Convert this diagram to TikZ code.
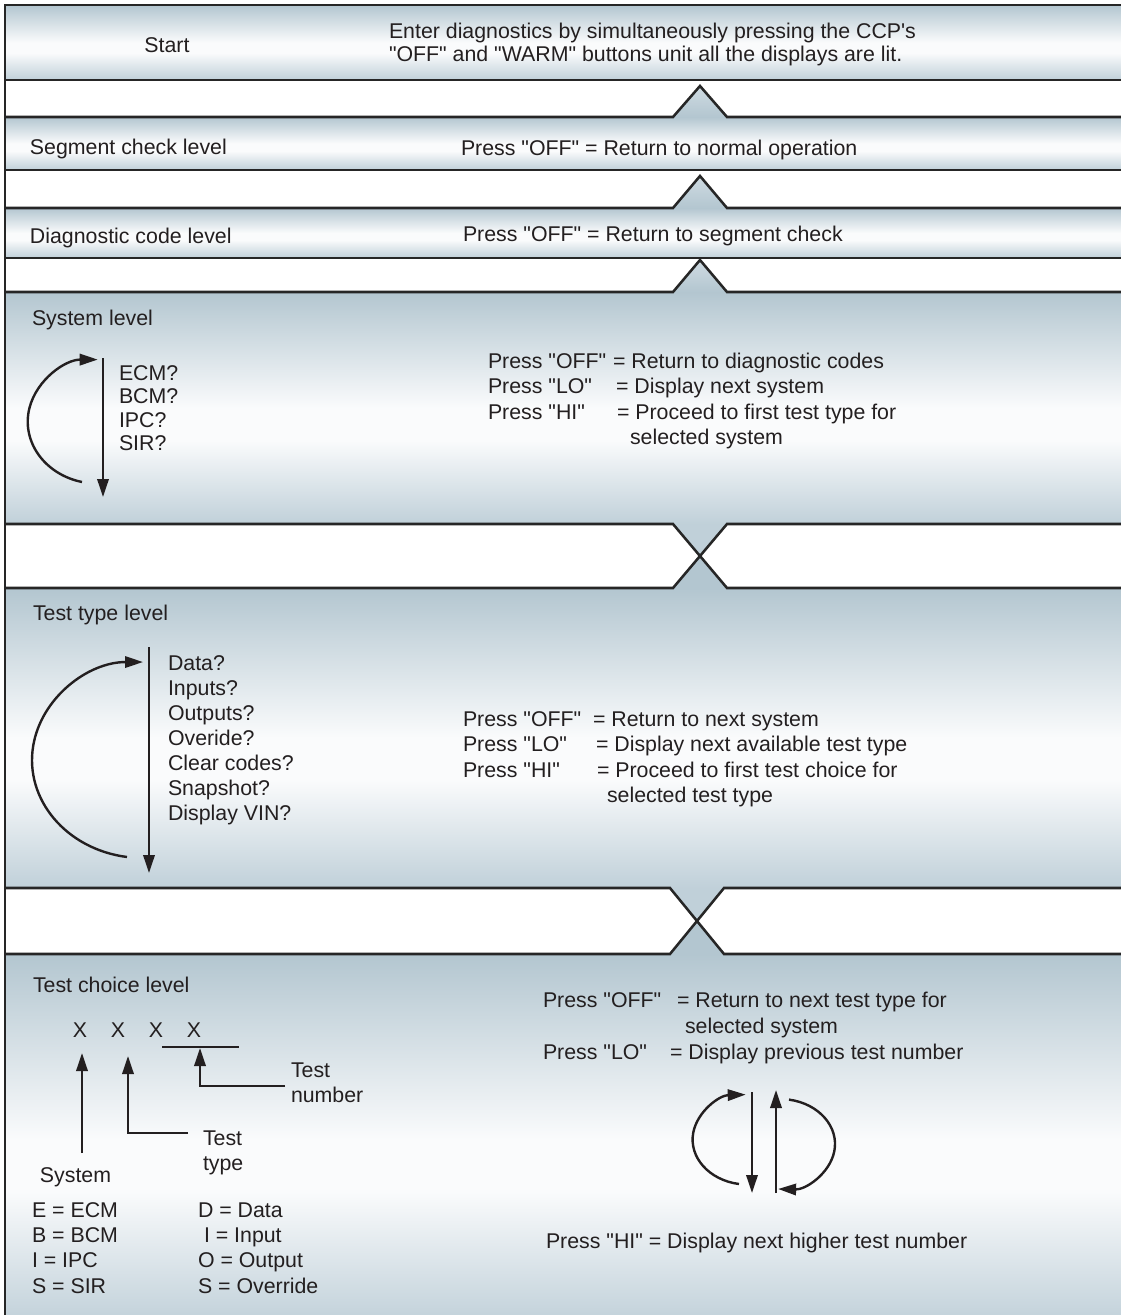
\documentclass[tikz,border=0pt]{standalone}
\usepackage{fontspec}
\setmainfont{Liberation Sans}
\usetikzlibrary{arrows.meta}
\newcommand{\dq}{\textquotedbl}
\definecolor{bandtop}{HTML}{B3C6D0}
\definecolor{bandbot}{HTML}{C0D0D9}
\definecolor{bandmid}{HTML}{FAFBFC}
\definecolor{trilight}{HTML}{CFDBE2}
\definecolor{edgec}{HTML}{262626}
\definecolor{inkc}{HTML}{231F20}
\pgfdeclareverticalshading{bandshade}{100bp}{color(0bp)=(bandbot); color(25bp)=(bandbot); color(43bp)=(bandmid); color(50bp)=(bandmid); color(75bp)=(bandtop); color(100bp)=(bandtop)}
\tikzset{
  txt/.style={anchor=base west, inner sep=0pt, outer sep=0pt, text=inkc, font=\fontsize{16}{19}\selectfont},
  edgeline/.style={draw=edgec, line width=1.9pt, line join=miter},
  arr/.style={draw=inkc, line width=1.8pt, -{Triangle[length=13.5pt,width=8.5pt]}},
  plainline/.style={draw=inkc, line width=1.5pt},
  bandfill/.style={shading=bandshade},
}
\begin{document}
\begin{tikzpicture}[x=0.75pt, y=-0.75pt]
\useasboundingbox (0,0) rectangle (1121,1315);
\clip (0,0) rectangle (1121,1315);
\fill[white] (0,0) rectangle (1121,1315);

% bands
\shade[bandfill] (5,5) rectangle (1130,80);
\shade[bandfill] (5,117) rectangle (1130,170);
\shade[bandfill] (5,208) rectangle (1130,258);
\shade[bandfill] (5,292) rectangle (1130,524);
\shade[bandfill] (5,588) rectangle (1130,888);
\shade[bandfill] (5,954) rectangle (1130,1325);

% chevrons
\shade[top color=trilight, bottom color=bandtop] (673,117) -- (700,86) -- (727,117) -- cycle;
\shade[top color=trilight, bottom color=bandtop] (673,208) -- (700,176) -- (727,208) -- cycle;
\shade[top color=trilight, bottom color=bandtop] (673,292) -- (700,260) -- (727,292) -- cycle;
\fill[bandbot] (673,524) -- (700,556) -- (727,524) -- cycle;
\fill[bandtop] (673,588) -- (700,556) -- (727,588) -- cycle;
\fill[bandbot] (670,888) -- (697,921) -- (724,888) -- cycle;
\fill[bandtop] (670,954) -- (697,921) -- (724,954) -- cycle;

% outlines
\draw[edgeline] (5,5) -- (1130,5);
\draw[edgeline] (5,80) -- (1130,80);
\draw[edgeline] (5,117) -- (673,117) -- (700,86) -- (727,117) -- (1130,117);
\draw[edgeline] (5,170) -- (1130,170);
\draw[edgeline] (5,208) -- (673,208) -- (700,176) -- (727,208) -- (1130,208);
\draw[edgeline] (5,258) -- (1130,258);
\draw[edgeline] (5,292) -- (673,292) -- (700,260) -- (727,292) -- (1130,292);
\draw[edgeline] (5,524) -- (673,524) -- (700,556) -- (727,524) -- (1130,524);
\draw[edgeline] (5,588) -- (673,588) -- (700,556) -- (727,588) -- (1130,588);
\draw[edgeline] (5,888) -- (670,888) -- (697,921) -- (724,888) -- (1130,888);
\draw[edgeline] (5,954) -- (670,954) -- (697,921) -- (724,954) -- (1130,954);
\draw[edgeline] (5,4) -- (5,1325);

% Start band
\node[txt, anchor=base] (start) at (167,52) {Start};
\node[txt] (enter1) at (389,38) {Enter diagnostics by simultaneously pressing the CCP\textquotesingle s};
\node[txt] (enter2) at (389,61) {\dq OFF\dq\ and \dq WARM\dq\ buttons unit all the displays are lit.};

% Segment band
\node[txt] (seg) at (30,154) {Segment check level};
\node[txt] (segp) at (461,155) {Press \dq OFF\dq\ = Return to normal operation};

% Diagnostic band
\node[txt] (diag) at (30,243) {Diagnostic code level};
\node[txt] (diagp) at (463,241) {Press \dq OFF\dq\ = Return to segment check};

% System band
\node[txt] (sys) at (32,325) {System level};
\node[txt, align=left, font=\fontsize{16}{17.6}\selectfont] (syslist) at (119,450.5) {ECM?\\BCM?\\IPC?\\SIR?};
\node[txt] (sp1) at (488,368) {Press \dq OFF\dq};
\node[txt] (se1) at (613,368) {= Return to diagnostic codes};
\node[txt] (sp2) at (488,393.5) {Press \dq LO\dq};
\node[txt] (se2) at (616,393.5) {= Display next system};
\node[txt] (sp3) at (488,419) {Press \dq HI\dq};
\node[txt] (se3) at (617,419) {= Proceed to first test type for};
\node[txt] (se4) at (630,444.5) {selected system};
\coordinate (sysA) at (103,358);
\coordinate (sysB) at (103,497);
\draw[arr] (sysA) -- (sysB);
\coordinate (sysC) at (82,482);
\draw[arr] (sysC) arc[start angle=103, end angle=270, x radius=70, y radius=62];

% Test type band
\node[txt] (tt) at (33,620) {Test type level};
\node[txt, align=left, font=\fontsize{16}{18.75}\selectfont] (ttlist) at (168,820) {Data?\\Inputs?\\Outputs?\\Overide?\\Clear codes?\\Snapshot?\\Display VIN?};
\node[txt] (tp1) at (463,726) {Press \dq OFF\dq};
\node[txt] (te1) at (593,726) {= Return to next system};
\node[txt] (tp2) at (463,751.5) {Press \dq LO\dq};
\node[txt] (te2) at (596,751.5) {= Display next available test type};
\node[txt] (tp3) at (463,777) {Press \dq HI\dq};
\node[txt] (te3) at (597,777) {= Proceed to first test choice for};
\node[txt] (te4) at (607,802.5) {selected test type};
\coordinate (ttA) at (149,647);
\coordinate (ttB) at (149,873);
\draw[arr] (ttA) -- (ttB);
\coordinate (ttC) at (127,857);
\draw[arr] (ttC) arc[start angle=98.3, end angle=270, x radius=111, y radius=98];

% Test choice band
\node[txt] (tc) at (33,992) {Test choice level};
\node[txt, anchor=base] (x1) at (80,1037) {X};
\node[txt, anchor=base] (x2) at (118,1037) {X};
\node[txt, anchor=base] (x3) at (156,1037) {X};
\node[txt, anchor=base] (x4) at (194,1037) {X};
\coordinate (ulA) at (162,1047);
\coordinate (ulB) at (239,1047);
\draw[plainline] (ulA) -- (ulB);
\coordinate (sysArr) at (82,1153);
\draw[arr] (sysArr) -- (82,1053);
\coordinate (ttyArr) at (188,1133);
\draw[arr] (ttyArr) -- (128,1133) -- (128,1056);
\coordinate (tnArr) at (285,1086);
\draw[arr] (tnArr) -- (200,1086) -- (200,1048);
\node[txt, align=left, font=\fontsize{16}{18.75}\selectfont] (tnum) at (291,1102) {Test\\number};
\node[txt, align=left, font=\fontsize{16}{18.75}\selectfont] (ttype) at (203,1170) {Test\\type};
\node[txt] (system) at (40,1182) {System};
\node[txt, align=left, font=\fontsize{16}{18.9}\selectfont] (leg1) at (32,1293) {E = ECM\\B = BCM\\I = IPC\\S = SIR};
\node[txt] (leg2a) at (198,1217) {D = Data};
\node[txt] (leg2b) at (204,1242.3) {I = Input};
\node[txt] (leg2c) at (198,1267.6) {O = Output};
\node[txt] (leg2d) at (198,1293) {S = Override};

\node[txt] (cp1) at (543,1007) {Press \dq OFF\dq};
\node[txt] (ce1) at (677,1007) {= Return to next test type for};
\node[txt] (ce2) at (685,1033) {selected system};
\node[txt] (cp3) at (543,1059) {Press \dq LO\dq};
\node[txt] (ce3) at (670,1059) {= Display previous test number};
\node[txt] (chi) at (546,1248) {Press \dq HI\dq\ = Display next higher test number};

\coordinate (rA) at (752,1092);
\coordinate (rB) at (752,1193);
\draw[arr] (rA) -- (rB);
\coordinate (rC) at (776,1193);
\coordinate (rD) at (776,1090);
\draw[arr] (rC) -- (rD);
\coordinate (rE) at (739,1184);
\draw[arr] (rE) arc[start angle=99, end angle=268, x radius=55, y radius=45];
\coordinate (rF) at (789,1099.6);
\draw[arr] (rF) arc[start angle=-80.6, end angle=92, x radius=55, y radius=45];
\end{tikzpicture}
\end{document}
